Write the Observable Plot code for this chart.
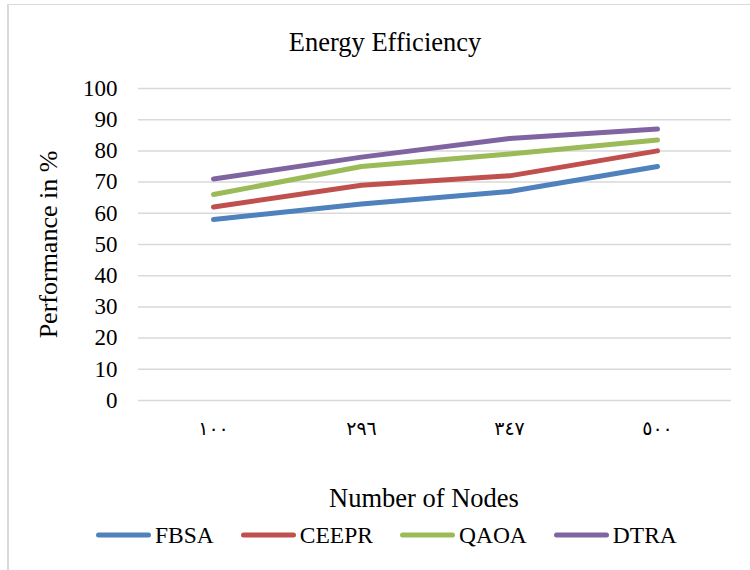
<!DOCTYPE html>
<html>
<head>
<meta charset="utf-8">
<script src="https://cdn.jsdelivr.net/npm/d3@7"></script>
<script src="https://cdn.jsdelivr.net/npm/@observablehq/plot@0.6"></script>
<style>
  html, body { margin: 0; padding: 0; background: #fff; overflow: hidden; }
  #wrap { position: relative; width: 750px; height: 570px; font-family: "Liberation Serif", Tinos, Times, serif; color: #000; }
  #frame { position: absolute; left: 7px; top: 4px; width: 800px; height: 600px; border-left: 2px solid #d9d9d9; border-top: 1.5px solid #d9d9d9; }
  #chart { position: absolute; left: 0; top: 0; }
  .lbl { position: absolute; white-space: nowrap; line-height: 1; }
  #title { left: 385px; top: 42px; transform: translate(-50%, -50%); font-size: 26.5px; }
  #xlabel { left: 424px; top: 498px; transform: translate(-50%, -50%); font-size: 26.5px; }
  #legend { position: absolute; left: 96px; top: 535px; transform: translateY(-50%); display: flex; align-items: center; gap: 27px; font-size: 23.5px; }
  .item { display: flex; align-items: center; gap: 4px; }
  .sw { width: 55px; height: 5px; border-radius: 3px; }
</style>
</head>
<body>
<div id="wrap">
  <div id="frame"></div>
  <div id="chart"></div>
  <div id="title" class="lbl"></div>
  <div id="xlabel" class="lbl"></div>
  <div id="legend"></div>
</div>
<script>
const titleText = "Energy Efficiency";
const xLabelText = "Number of Nodes";
const yLabelText = "Performance in %";
const categories = ["١٠٠", "٢٩٦", "٣٤٧", "٥٠٠"];
const seriesNames = ["FBSA", "CEEPR", "QAOA", "DTRA"];
const fbsa = [58, 63, 67, 75];
const ceepr = [62, 69, 72, 80];
const qaoa = [66, 75, 79, 83.5];
const dtra = [71, 78, 84, 87];
const colors = ["#4F81BD", "#C0504D", "#9BBB59", "#8064A2"];
const yTicks = [0, 10, 20, 30, 40, 50, 60, 70, 80, 90, 100];

const seriesValues = [fbsa, ceepr, qaoa, dtra];
const data = [];
seriesNames.forEach((s, i) => {
  categories.forEach((c, j) => data.push({series: s, node: c, value: seriesValues[i][j]}));
});

const serif = "'Liberation Serif', Tinos, Times, serif";
const chart = Plot.plot({
  width: 750,
  height: 570,
  marginLeft: 138,
  marginRight: 19,
  marginTop: 88,
  marginBottom: 170,
  style: {fontFamily: serif, color: "#000", background: "transparent"},
  x: {type: "point", domain: categories, padding: 0.5, label: null},
  y: {domain: [0, 100], label: null},
  color: {domain: seriesNames, range: colors},
  marks: [
    Plot.gridY(yTicks, {stroke: "#d9d9d9", strokeOpacity: 1, strokeWidth: 1.5}),
    Plot.axisY(yTicks, {tickSize: 0, tickPadding: 21, fontSize: 23, fill: "#000", fontFamily: serif}),
    Plot.axisX({tickSize: 0, tickPadding: 21, fontSize: 19, fontFamily: "'DejaVu Sans', sans-serif", fill: "#000"}),
    Plot.text([yLabelText], {frameAnchor: "left", dx: -90, rotate: -90, textAnchor: "middle", fontSize: 26, fill: "#000", fontFamily: serif}),
    Plot.line(data, {x: "node", y: "value", z: "series", stroke: "series", strokeWidth: 5, strokeLinecap: "round", strokeLinejoin: "round"})
  ]
});
document.getElementById("chart").appendChild(chart);
document.getElementById("title").textContent = titleText;
document.getElementById("xlabel").textContent = xLabelText;

const legend = document.getElementById("legend");
seriesNames.forEach((s, i) => {
  const item = document.createElement("div");
  item.className = "item";
  const sw = document.createElement("div");
  sw.className = "sw";
  sw.style.background = colors[i];
  const t = document.createElement("span");
  t.textContent = s;
  item.appendChild(sw);
  item.appendChild(t);
  legend.appendChild(item);
});
</script>
</body>
</html>
